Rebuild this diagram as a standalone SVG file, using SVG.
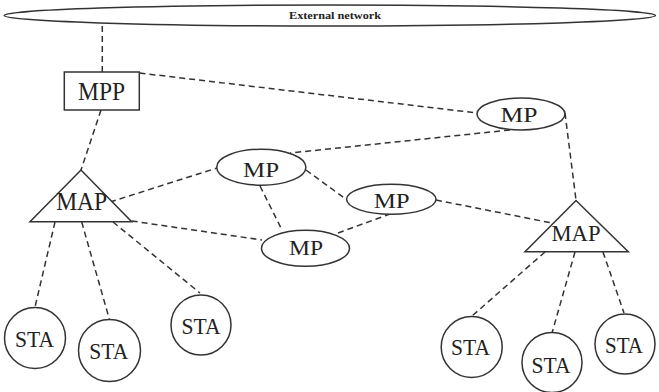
<svg xmlns="http://www.w3.org/2000/svg" width="659" height="392" viewBox="0 0 659 392">
<style>
.shape{fill:#fff;stroke:#333;stroke-width:1.5}
.link{stroke:#333;stroke-width:1.5;stroke-dasharray:6,4;fill:none}
.lbl{font-family:"Liberation Serif","Times New Roman",serif;fill:#222;text-anchor:middle}
.ext{font-family:"Liberation Serif","Times New Roman",serif;font-weight:bold;font-size:11px;fill:#222;text-anchor:middle}
</style>
<rect width="659" height="392" fill="#fff"/>
<g id="connectors">
<line class="link" x1="102.3" y1="26" x2="102.3" y2="72"/>
<line class="link" x1="139.5" y1="73" x2="477" y2="113"/>
<line class="link" x1="101" y1="110" x2="81" y2="170"/>
<line class="link" x1="565" y1="113" x2="576" y2="200"/>
<line class="link" x1="510" y1="130" x2="290" y2="153"/>
<line class="link" x1="110" y1="202" x2="217" y2="168"/>
<line class="link" x1="260" y1="186" x2="282" y2="230"/>
<line class="link" x1="306" y1="170" x2="347" y2="200"/>
<line class="link" x1="131.7" y1="221" x2="262" y2="240"/>
<line class="link" x1="338" y1="233" x2="390" y2="214"/>
<line class="link" x1="436" y1="200" x2="552" y2="223"/>
<line class="link" x1="55" y1="222" x2="35" y2="307"/>
<line class="link" x1="81.7" y1="222" x2="109.3" y2="319"/>
<line class="link" x1="113" y1="222" x2="200" y2="293"/>
<line class="link" x1="545" y1="252" x2="472" y2="316"/>
<line class="link" x1="575" y1="252" x2="552" y2="333"/>
<line class="link" x1="603" y1="252" x2="624" y2="313"/>
</g>
<g id="external">
<ellipse class="shape" cx="329.8" cy="15.5" rx="325.6" ry="10.5"/>
<text class="ext" x="335" y="19.3" textLength="92" lengthAdjust="spacingAndGlyphs">External network</text>
</g>
<g id="mpp">
<rect class="shape" x="64.3" y="72" width="75" height="38"/>
<text class="lbl" x="101.5" y="100" font-size="26" textLength="47" lengthAdjust="spacingAndGlyphs">MPP</text>
</g>
<g id="mp-top">
<ellipse class="shape" cx="521" cy="114" rx="44" ry="16"/>
<text class="lbl" x="519" y="121.5" font-size="22" textLength="37" lengthAdjust="spacingAndGlyphs">MP</text>
</g>
<g id="mp-mid">
<ellipse class="shape" cx="261.3" cy="167.2" rx="44.6" ry="18"/>
<text class="lbl" x="261" y="177" font-size="22" textLength="36" lengthAdjust="spacingAndGlyphs">MP</text>
</g>
<g id="mp-right">
<ellipse class="shape" cx="391.3" cy="199.3" rx="44.7" ry="15"/>
<text class="lbl" x="391.7" y="208.3" font-size="22" textLength="36" lengthAdjust="spacingAndGlyphs">MP</text>
</g>
<g id="mp-low">
<ellipse class="shape" cx="305.5" cy="248.3" rx="44" ry="18"/>
<text class="lbl" x="306" y="255" font-size="22" textLength="34" lengthAdjust="spacingAndGlyphs">MP</text>
</g>
<g id="map-left">
<polygon class="shape" points="81,170 30,221.7 131.7,221.7"/>
<text class="lbl" x="81.7" y="210" font-size="25" textLength="51" lengthAdjust="spacingAndGlyphs">MAP</text>
</g>
<g id="map-right">
<polygon class="shape" points="576,200.5 525,251.7 628.3,251.7"/>
<text class="lbl" x="576" y="240.7" font-size="24" textLength="49" lengthAdjust="spacingAndGlyphs">MAP</text>
</g>
<g id="sta1">
<circle class="shape" cx="35" cy="338" r="30.5"/>
<text class="lbl" x="34.5" y="347" font-size="23" textLength="39" lengthAdjust="spacingAndGlyphs">STA</text>
</g>
<g id="sta2">
<circle class="shape" cx="109.5" cy="350.5" r="31"/>
<text class="lbl" x="108.8" y="359" font-size="23" textLength="39" lengthAdjust="spacingAndGlyphs">STA</text>
</g>
<g id="sta3">
<circle class="shape" cx="201" cy="325" r="30"/>
<text class="lbl" x="201" y="334" font-size="23" textLength="39" lengthAdjust="spacingAndGlyphs">STA</text>
</g>
<g id="sta4">
<circle class="shape" cx="471.7" cy="347" r="30.5"/>
<text class="lbl" x="470.5" y="355" font-size="23" textLength="39" lengthAdjust="spacingAndGlyphs">STA</text>
</g>
<g id="sta5">
<circle class="shape" cx="552" cy="362.5" r="30"/>
<text class="lbl" x="551" y="373" font-size="23" textLength="39" lengthAdjust="spacingAndGlyphs">STA</text>
</g>
<g id="sta6">
<circle class="shape" cx="625" cy="344" r="30"/>
<text class="lbl" x="624" y="352.5" font-size="23" textLength="38" lengthAdjust="spacingAndGlyphs">STA</text>
</g>
</svg>
